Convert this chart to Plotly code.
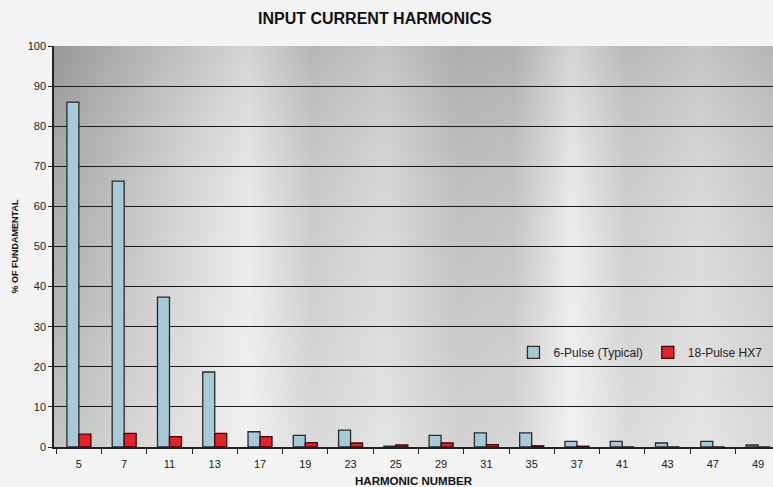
import plotly.graph_objects as go
import base64

harmonics = ["5", "7", "11", "13", "17", "19", "23", "25", "29", "31", "35", "37", "41", "43", "47", "49"]
pulse6 = [86.0, 66.3, 37.4, 18.7, 3.8, 2.9, 4.2, 0.2, 2.9, 3.5, 3.5, 1.4, 1.4, 1.0, 1.4, 0.5]
pulse18 = [3.2, 3.4, 2.6, 3.4, 2.6, 1.1, 1.0, 0.5, 1.0, 0.6, 0.3, 0.2, 0, 0, 0, 0]
y_ticks = [0, 10, 20, 30, 40, 50, 60, 70, 80, 90, 100]

svg = """<svg xmlns='http://www.w3.org/2000/svg' width='720' height='401' preserveAspectRatio='none'>
<defs>
<linearGradient id='h' x1='0' y1='0' x2='1' y2='0'>
<stop offset='0' stop-color='#a9a9a9'/>
<stop offset='0.08' stop-color='#bdbdbd'/>
<stop offset='0.18' stop-color='#d6d6d6'/>
<stop offset='0.27' stop-color='#ebebeb'/>
<stop offset='0.36' stop-color='#cacaca'/>
<stop offset='0.46' stop-color='#d9d9d9'/>
<stop offset='0.56' stop-color='#c1bfbf'/>
<stop offset='0.64' stop-color='#c4c4c4'/>
<stop offset='0.72' stop-color='#ececec'/>
<stop offset='0.80' stop-color='#cdcdcd'/>
<stop offset='0.90' stop-color='#dadada'/>
<stop offset='1' stop-color='#c9c9c9'/>
</linearGradient>
<linearGradient id='v' x1='0' y1='0' x2='0' y2='1'>
<stop offset='0' stop-color='#000' stop-opacity='0.10'/>
<stop offset='0.5' stop-color='#fff' stop-opacity='0.05'/>
<stop offset='1' stop-color='#fff' stop-opacity='0.30'/>
</linearGradient>
</defs>
<rect width='720' height='401' fill='url(#h)'/>
<rect width='720' height='401' fill='url(#v)'/>
</svg>"""
bg_uri = "data:image/svg+xml;base64," + base64.b64encode(svg.encode()).decode()

fig = go.Figure()
fig.add_trace(go.Bar(
    x=harmonics, y=pulse6, name="6-Pulse (Typical)",
    marker=dict(color="#a6cad8", line=dict(color="#2a2a2a", width=1.3)),
))
fig.add_trace(go.Bar(
    x=harmonics, y=pulse18, name="18-Pulse HX7",
    marker=dict(color="#e8202a", line=dict(color="#3a0a0a", width=1.3)),
))

fig.update_layout(
    width=773, height=487,
    margin=dict(l=54, r=0, t=46, b=40),
    paper_bgcolor="#f3f4f3",
    plot_bgcolor="rgba(0,0,0,0)",
    barmode="group",
    bargap=0.47,
    bargroupgap=0,
    font=dict(family="Liberation Sans, Arial, sans-serif", size=11, color="#222"),
    title=dict(text="<b>INPUT CURRENT HARMONICS</b>", x=0.485, xanchor="center",
               y=0.962, yanchor="middle", font=dict(size=16, color="#111")),
    legend=dict(orientation="h", x=0.639, xanchor="left", y=0.236, yanchor="middle",
                bgcolor="rgba(0,0,0,0)", font=dict(size=12, color="#222"),
                itemwidth=30, traceorder="normal"),
    images=[dict(source=bg_uri, xref="paper", yref="paper", x=0, y=1, sizex=1, sizey=1,
                 sizing="stretch", layer="below", xanchor="left", yanchor="top")],
    xaxis=dict(
        type="category", range=[-0.55, 15.33],
        tickson="boundaries", ticks="outside", ticklen=5, tickcolor="#222",
        ticklabelstandoff=6,
        showline=True, linecolor="#222", linewidth=1.5,
        title=dict(text="<b>HARMONIC NUMBER</b>", font=dict(size=11.5, color="#111"), standoff=9),
        tickfont=dict(size=11),
    ),
    yaxis=dict(
        range=[0, 100], tickvals=y_ticks, ticks="outside", ticklen=4, tickcolor="#222",
        showline=True, linecolor="#222", linewidth=1.5,
        showgrid=True, gridcolor="#1a1a1a", gridwidth=1,
        zeroline=False,
        title=dict(text="<b>% OF FUNDAMENTAL</b>", font=dict(size=9, color="#111"), standoff=8),
        tickfont=dict(size=11),
    ),
)

fig.write_html("out.html", config={"displayModeBar": False},
               post_script="document.body.style.margin='0';")
